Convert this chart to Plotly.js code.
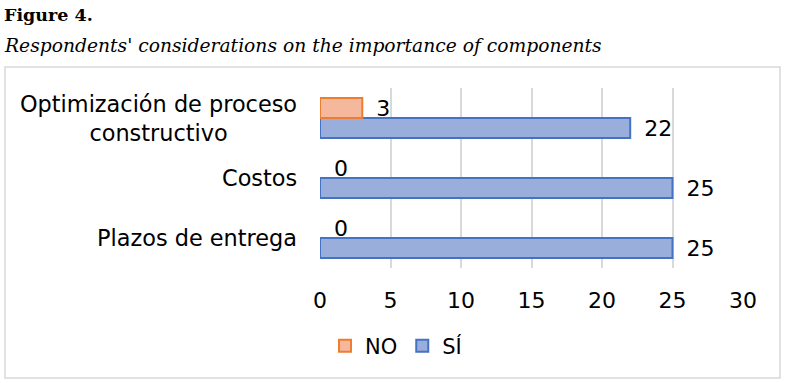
<!DOCTYPE html>
<html><head><meta charset="utf-8">
<script src="https://cdn.plot.ly/plotly-3.0.1.min.js"></script>
<style>html,body{margin:0;padding:0;background:#fff}#c{width:787px;height:383px}</style>
</head><body><div id="c"></div>
<script>
const categories = ['Optimización de proceso constructivo', 'Costos', 'Plazos de entrega'];
const categoryLabels = ['Optimización de proceso<br>constructivo', 'Costos', 'Plazos de entrega'];
const siValues = [22, 25, 25];
const noValues = [3, 0, 0];
const seriesNames = ['NO', 'SÍ'];
const xTicks = [0, 5, 10, 15, 20, 25, 30];

const W = 787, H = 383, L = 320, R = 743, T = 88, B = 268;
const px = x => (x - L) / (R - L);
const py = y => (B - y) / (B - T);
const font = 'DejaVu Sans, Verdana, sans-serif';
const FS = 22;

const traces = [
  {type: 'bar', orientation: 'h', name: seriesNames[1], y: categories, x: siValues,
   marker: {color: '#9aaedb', line: {color: '#4472c4', width: siValues.map(v => v > 0 ? 2 : 0)}},
   texttemplate: '\u2002%{x}', textposition: 'outside', constraintext: 'none',
   textfont: {family: font, size: FS, color: '#000'}, cliponaxis: false, hoverinfo: 'none'},
  {type: 'bar', orientation: 'h', name: seriesNames[0], y: categories, x: noValues,
   marker: {color: '#f6b89c', line: {color: '#ed7d31', width: noValues.map(v => v > 0 ? 2 : 0)}},
   texttemplate: '\u2002%{x}', textposition: 'outside', constraintext: 'none',
   textfont: {family: font, size: FS, color: '#000'}, cliponaxis: false, hoverinfo: 'none'}
];

const annotations = categories.map((c, i) => ({
  xref: 'paper', yref: 'y', x: px(299), y: c, xanchor: 'right', yanchor: 'middle',
  text: categoryLabels[i], align: 'center', showarrow: false,
  font: {family: font, size: 22.4, color: '#000'}
}));
annotations.push({xref: 'paper', yref: 'paper', x: px(2), y: py(46), xanchor: 'left', yanchor: 'middle',
  text: "<i>Respondents' considerations on the importance of components</i>", showarrow: false,
  font: {family: 'DejaVu Serif, Liberation Serif, serif', size: 18.7, color: '#000'}});
annotations.push({xref: 'paper', yref: 'paper', x: px(2), y: py(15), xanchor: 'left', yanchor: 'middle',
  text: '<b>Figure 4.</b>', showarrow: false,
  font: {family: 'DejaVu Serif, Liberation Serif, serif', size: 17.5, color: '#000'}});

const layout = {
  width: W, height: H,
  margin: {l: L, r: W - R, t: T, b: H - B, pad: 0},
  paper_bgcolor: '#fff', plot_bgcolor: '#fff',
  barmode: 'group', bargap: 1/3, bargroupgap: 0,
  showlegend: true,
  legend: {orientation: 'h', x: px(396), y: py(346), xanchor: 'center', yanchor: 'middle',
           traceorder: 'reversed', font: {family: font, size: 21, color: '#000'}, itemwidth: 30},
  xaxis: {range: [0, 30], tickvals: xTicks, ticktext: xTicks.map(String), showgrid: true,
          gridcolor: '#d9d9d9', gridwidth: 2, zeroline: false, showline: false, ticks: '',
          tickfont: {family: font, size: FS, color: '#000'}, ticklabelstandoff: 17, fixedrange: true},
  yaxis: {type: 'category', categoryorder: 'array', categoryarray: categories.slice().reverse(), showticklabels: false,
          showgrid: false, zeroline: false, showline: false, ticks: '', fixedrange: true},
  annotations: annotations,
  shapes: [{type: 'rect', xref: 'paper', yref: 'paper', x0: px(5), x1: px(780), y0: py(378), y1: py(67),
            line: {color: '#d9d9d9', width: 1.5}, fillcolor: 'rgba(0,0,0,0)', layer: 'below'}]
};
Plotly.newPlot('c', traces, layout, {staticPlot: true, displayModeBar: false});
</script></body></html>
